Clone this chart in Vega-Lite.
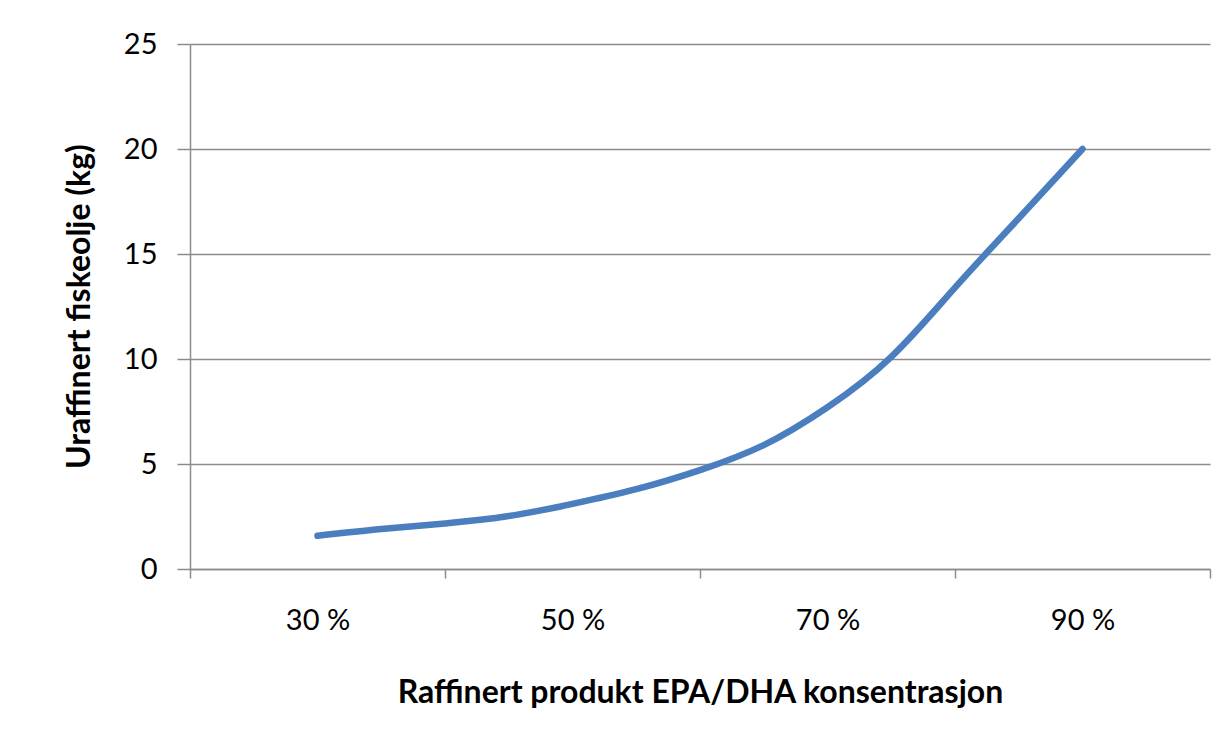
{
  "$schema": "https://vega.github.io/schema/vega-lite/v6.json",
  "autosize": "none",
  "width": 1020,
  "height": 525,
  "padding": {"left": 190, "top": 44, "right": 21, "bottom": 180},
  "background": "white",
  "config": {
    "view": {"stroke": null},
    "font": "Lato"
  },
  "data": {
    "values": [
      {"konsentrasjon": 30, "kg": 1.58},
      {"konsentrasjon": 35, "kg": 1.9},
      {"konsentrasjon": 40, "kg": 2.17},
      {"konsentrasjon": 45, "kg": 2.52},
      {"konsentrasjon": 50, "kg": 3.1},
      {"konsentrasjon": 55, "kg": 3.8},
      {"konsentrasjon": 60, "kg": 4.71},
      {"konsentrasjon": 65, "kg": 5.9},
      {"konsentrasjon": 70, "kg": 7.7},
      {"konsentrasjon": 75, "kg": 10.1},
      {"konsentrasjon": 80, "kg": 13.4},
      {"konsentrasjon": 85, "kg": 16.7},
      {"konsentrasjon": 90, "kg": 20.0}
    ]
  },
  "mark": {"type": "line", "color": "#4A7EBF", "strokeWidth": 6.5, "strokeCap": "round", "strokeJoin": "round", "interpolate": "natural"},
  "encoding": {
    "x": {
      "field": "konsentrasjon",
      "type": "quantitative",
      "scale": {"domain": [20, 100], "nice": false, "zero": false},
      "axis": {
        "title": "Raffinert produkt EPA/DHA konsentrasjon",
        "titleFont": "Lato",
        "titleFontSize": 32,
        "titleFontWeight": "bold",
        "titleColor": "#000000",
        "titleX": 510,
        "titleY": 133,
        "titleAlign": "center",
        "titleBaseline": "alphabetic",
        "values": [20, 30, 40, 50, 60, 70, 80, 90, 100],
        "labelExpr": "datum.value % 20 == 10 ? datum.value + ' %' : ''",
        "labelFont": "Lato",
        "labelFontSize": 29,
        "labelColor": "#000000",
        "labelPadding": 28,
        "labelOverlap": false,
        "labelFlush": false,
        "labelBaseline": "top",
        "grid": false,
        "domain": true,
        "domainColor": "#8c8c8c",
        "domainWidth": 1.5,
        "ticks": true,
        "tickSize": 9,
        "tickWidth": 1.5,
        "tickColor": "#8c8c8c",
        "tickOpacity": {"condition": {"test": "datum.value % 20 == 10", "value": 0}, "value": 1}
      }
    },
    "y": {
      "field": "kg",
      "type": "quantitative",
      "scale": {"domain": [0, 25], "nice": false},
      "axis": {
        "title": "Uraffinert fiskeolje (kg)",
        "titleFont": "Lato",
        "titleFontSize": 32,
        "titleFontWeight": "bold",
        "titleColor": "#000000",
        "titleAngle": 270,
        "titleX": -111,
        "titleY": 262,
        "titleAlign": "center",
        "titleBaseline": "middle",
        "values": [0, 5, 10, 15, 20, 25],
        "labelFont": "Lato",
        "labelFontSize": 29,
        "labelColor": "#000000",
        "labelPadding": 20,
        "grid": true,
        "gridColor": "#8c8c8c",
        "gridWidth": 1.5,
        "domain": true,
        "domainColor": "#8c8c8c",
        "domainWidth": 1.5,
        "ticks": true,
        "tickSize": 13,
        "tickWidth": 1.5,
        "tickColor": "#8c8c8c"
      }
    }
  }
}
